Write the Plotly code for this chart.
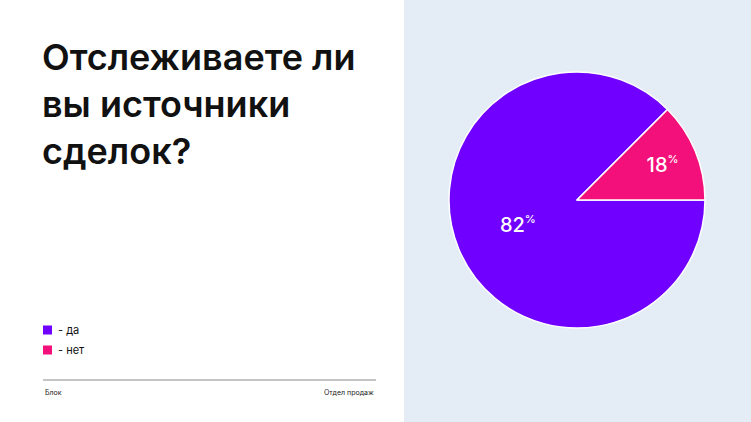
import plotly.graph_objects as go

# survey answers
categories = ['да', 'нет']
pct_labels = [82, 18]          # numbers printed on the slices
slice_values = [87.5, 12.5]    # slice sizes as drawn in the picture
colors = ['#7000FF', '#F4107A']

title_lines = ['Отслеживаете ли', 'вы источники', 'сделок?']
footer_left = 'Блок'
footer_right = 'Отдел продаж'

W, H = 751, 422

fig = go.Figure()

fig.add_trace(go.Pie(
    labels=categories,
    values=slice_values,
    text=[f'{p}<sup><span style="font-size:11px">%</span></sup>' for p in pct_labels],
    textinfo='text',
    textposition='inside',
    insidetextorientation='horizontal',
    textfont=dict(family='Inter', size=20, color='white', weight=500),
    marker=dict(colors=colors, line=dict(color='white', width=1.5)),
    sort=False,
    direction='counterclockwise',
    rotation=90,
    hoverinfo='label+text',
    showlegend=False,
    domain=dict(x=[449 / W, 705 / W], y=[1 - 328 / H, 1 - 72 / H]),
))

# light panel behind the pie
fig.add_shape(type='rect', xref='paper', yref='paper', x0=404 / W, x1=1, y0=0, y1=1,
              fillcolor='#E4ECF6', line_width=0, layer='below')
# footer rule
fig.add_shape(type='line', xref='paper', yref='paper', x0=43 / W, x1=376 / W,
              y0=1 - 380 / H, y1=1 - 380 / H, line=dict(color='#8a8a8a', width=1))

# legend: small squares + labels
for i, (cat, col) in enumerate(zip(categories, colors)):
    yc = 330 + 20 * i
    fig.add_shape(type='rect', xref='paper', yref='paper',
                  x0=43 / W, x1=52 / W, y0=1 - (yc + 4.5) / H, y1=1 - (yc - 4.5) / H,
                  fillcolor=col, line_width=0)
    fig.add_annotation(text=f'- {cat}', xref='paper', yref='paper', x=56 / W, y=1 - yc / H,
                       xanchor='left', yanchor='middle', showarrow=False,
                       font=dict(family='Inter', size=11, color='#111111'))

fig.add_annotation(text='<br>'.join(title_lines), xref='paper', yref='paper',
                   x=40 / W, y=1 - 33 / H, xanchor='left', yanchor='top', align='left',
                   showarrow=False, font=dict(family='Inter', size=36, color='#111111', weight=600))
fig.add_annotation(text=footer_left, xref='paper', yref='paper', x=43 / W, y=1 - 392 / H,
                   xanchor='left', yanchor='middle', showarrow=False,
                   font=dict(family='Inter', size=7, color='#222222'))
fig.add_annotation(text=footer_right, xref='paper', yref='paper', x=376 / W, y=1 - 392 / H,
                   xanchor='right', yanchor='middle', showarrow=False,
                   font=dict(family='Inter', size=7, color='#222222'))

fig.update_layout(
    width=W, height=H,
    margin=dict(l=0, r=0, t=0, b=0),
    paper_bgcolor='white',
    plot_bgcolor='white',
    showlegend=False,
)

fig.write_html('out.html', config={'displayModeBar': False},
               post_script="document.body.style.margin='0';")
